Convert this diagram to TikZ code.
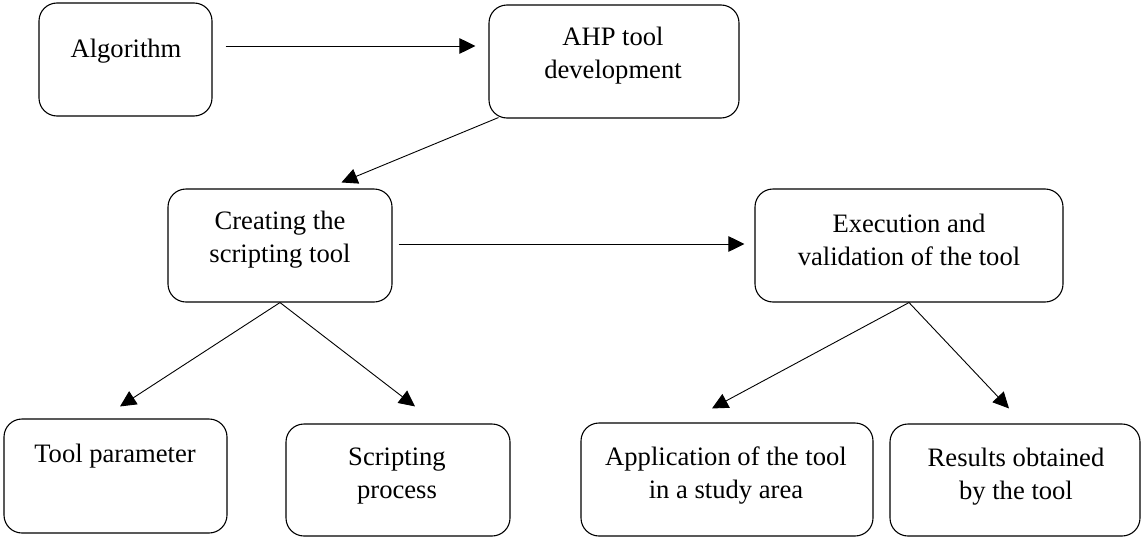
\documentclass[tikz,border=0pt]{standalone}
\usepackage{fontspec}
\setmainfont{Liberation Serif}
\usetikzlibrary{arrows.meta}
\tikzset{
  box/.style={draw, line width=1.1pt, rounded corners=18pt, inner sep=0pt},
  lbl/.style={font=\fontsize{26.6}{33}\selectfont, align=center, inner sep=0pt},
  arr/.style={line width=0.9pt, -{Triangle[length=16pt,width=15.5pt]}}
}
\begin{document}
\begin{tikzpicture}[x=1pt,y=-1pt]
\useasboundingbox (0,0) rectangle (1142,538);
% boxes
\node[box, minimum width=173pt, minimum height=113pt] (alg) at (125.5,59.5) {};
\node[box, minimum width=250pt, minimum height=113pt] (ahp) at (614,61.5) {};
\node[box, minimum width=224pt, minimum height=113pt] (cre) at (280,245.5) {};
\node[box, minimum width=308pt, minimum height=113pt] (exe) at (909,245.5) {};
\node[box, minimum width=223pt, minimum height=114pt] (tp) at (115.5,476) {};
\node[box, minimum width=224pt, minimum height=112pt] (sp) at (398,480) {};
\node[box, minimum width=292pt, minimum height=113pt] (app) at (727,479.5) {};
\node[box, minimum width=250pt, minimum height=112pt] (res) at (1015,480) {};
% labels
\node[lbl] (algt) at (126,51) {Algorithm};
\node[lbl] (ahpt) at (613,56) {AHP tool\\development};
\node[lbl] (cret) at (280,240) {Creating the\\scripting tool};
\node[lbl] (exet) at (909,240) {Execution and\\validation of the tool};
\node[lbl] (tpt) at (115,456) {Tool parameter};
\node[lbl] (spt) at (397,476.5) {Scripting\\process};
\node[lbl] (appt) at (726,475) {Application of the tool\\in a study area};
\node[lbl] (rest) at (1016,476.5) {Results obtained\\by the tool};
% connectors
\draw[arr] ([xshift=13pt,yshift=13.5pt]alg.east) -- ([xshift=-13pt,yshift=15.5pt]ahp.west);
\draw[arr] ([xshift=10pt,yshift=1pt]ahp.south west) -- ([xshift=174pt,yshift=6pt]cre.north west);
\draw[arr] ([xshift=6pt,yshift=1.5pt]cre.east) -- ([xshift=-10pt,yshift=1.5pt]exe.west);
\draw[arr] (cre.south) -- ([xshift=4.5pt,yshift=12pt]tp.north);
\draw[arr] (cre.south) -- ([xshift=17pt,yshift=17pt]sp.north);
\draw[arr] (exe.south) -- ([xshift=-15pt,yshift=14pt]app.north);
\draw[arr] (exe.south) -- ([xshift=-6pt,yshift=15pt]res.north);
\end{tikzpicture}
\end{document}
